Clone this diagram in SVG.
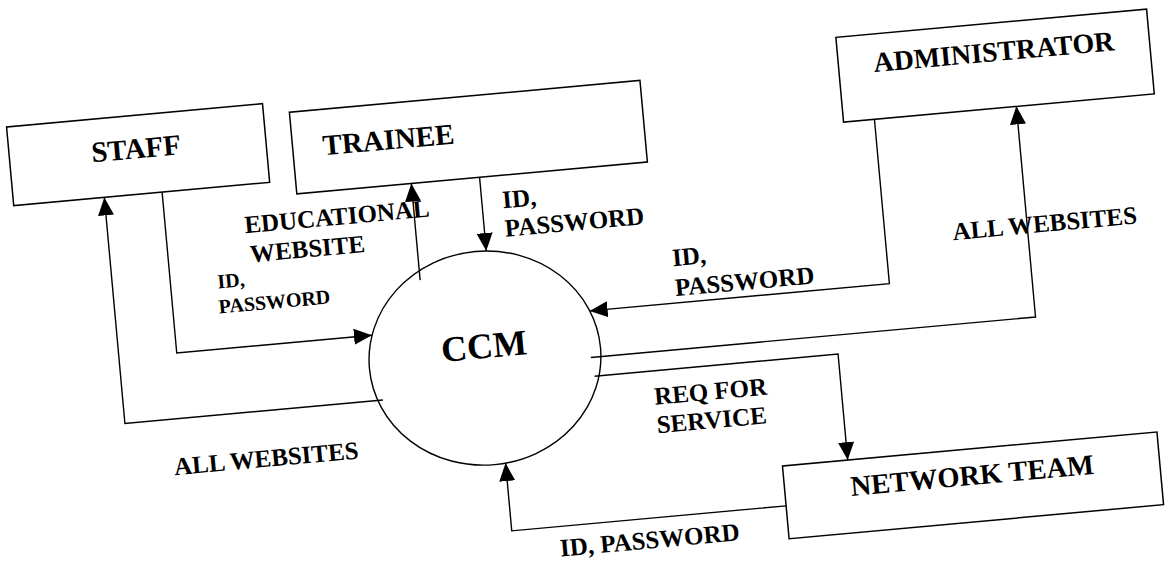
<svg xmlns="http://www.w3.org/2000/svg" width="1174" height="565" viewBox="0 0 1174 565">
  <style>
    .box { fill: #fff; stroke: #000; stroke-width: 1.5; }
    .flow { fill: none; stroke: #000; stroke-width: 1.4; }
    text { font-family: 'Liberation Serif', 'Times New Roman', Times, serif; font-weight: 700; fill: #000; }
    .name { font-size: 29px; }
    .lbl { font-size: 25px; }
    .sm { font-size: 20px; }
  </style>
  <defs>
    <marker id="arrow" viewBox="0 0 18 16" refX="18" refY="8" markerWidth="18" markerHeight="16" markerUnits="userSpaceOnUse" orient="auto">
      <path d="M0,0 L18,8 L0,16 Z" fill="#000"/>
    </marker>
  </defs>
  <rect width="1174" height="565" fill="#fff"/>

  <!-- whole sheet is slightly tilted -->
  <g transform="rotate(-5.2 587 282)">
    <g id="staff">
      <rect class="box" x="23" y="75" width="257" height="79"/>
      <text class="name" x="150" y="118" text-anchor="middle">STAFF</text>
    </g>
    <g id="trainee">
      <rect class="box" x="306" y="86" width="352" height="82"/>
      <text class="name" x="336" y="132">TRAINEE</text>
    </g>
    <g id="administrator">
      <rect class="box" x="857" y="61" width="312" height="85"/>
      <text x="1013" y="99" text-anchor="middle" font-size="28">ADMINISTRATOR</text>
    </g>
    <g id="network-team">
      <rect class="box" x="765" y="483" width="376" height="73"/>
      <text x="953" y="519" text-anchor="middle" font-size="28.5">NETWORK TEAM</text>
    </g>
    <g id="ccm">
      <ellipse cx="478.5" cy="348.5" rx="116" ry="107" fill="#fff" stroke="#000" stroke-width="1.4"/>
      <text x="478.5" y="348.5" text-anchor="middle" font-size="36">CCM</text>
    </g>

    <g id="connectors">
      <!-- staff -> CCM -->
      <path class="flow" d="M172,154 V315.5 H368" marker-end="url(#arrow)"/>
      <!-- CCM -> staff -->
      <path class="flow" d="M373,381 H114 V154" marker-end="url(#arrow)"/>
      <!-- CCM -> trainee -->
      <path class="flow" d="M421,265 V168" marker-end="url(#arrow)"/>
      <!-- trainee -> CCM -->
      <path class="flow" d="M489.5,168 V242" marker-end="url(#arrow)"/>
      <!-- administrator -> CCM -->
      <path class="flow" d="M888,146 V311 H587" marker-end="url(#arrow)"/>
      <!-- CCM -> administrator -->
      <path class="flow" d="M584,357.5 H1030.5 V146" marker-end="url(#arrow)"/>
      <!-- CCM -> network team -->
      <path class="flow" d="M586,376.5 H830.5 V483" marker-end="url(#arrow)"/>
      <!-- network team -> CCM -->
      <path class="flow" d="M765,523 H489.5 V455" marker-end="url(#arrow)"/>
    </g>

    <g id="labels">
      <text class="lbl" x="251" y="202.5">EDUCATIONAL</text>
      <text class="lbl" x="254" y="232">WEBSITE</text>
      <text class="sm" x="219" y="255">ID,</text>
      <text class="sm" x="218" y="280">PASSWORD</text>
      <text class="lbl" x="510" y="201">ID,</text>
      <text class="lbl" x="510" y="229.5">PASSWORD</text>
      <text class="lbl" x="674" y="274">ID,</text>
      <text class="lbl" x="674" y="304">PASSWORD</text>
      <text class="lbl" x="955.5" y="273.5">ALL WEBSITES</text>
      <text class="lbl" x="643.5" y="410.5">REQ FOR</text>
      <text class="lbl" x="643.5" y="439">SERVICE</text>
      <text class="lbl" x="159" y="437">ALL WEBSITES</text>
      <text class="lbl" x="536" y="553">ID, PASSWORD</text>
    </g>
  </g>
</svg>
